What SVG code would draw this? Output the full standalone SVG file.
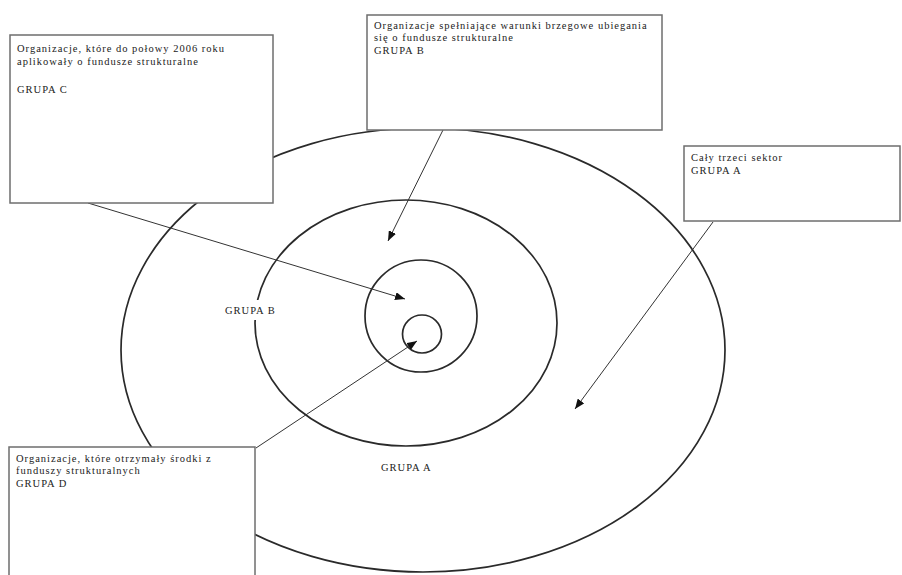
<svg xmlns="http://www.w3.org/2000/svg" width="902" height="575" viewBox="0 0 902 575">
<style>
.ring{fill:none;stroke:#2a2a2a;stroke-width:1.7}
.box{fill:#fff;stroke:#6e6e6e;stroke-width:1.5}
.t{font-family:"Liberation Serif","Times New Roman",serif;font-size:10.5px;letter-spacing:1px;fill:#222}
.lbl{fill:#fff}
.con{stroke:#333;stroke-width:1;fill:none;marker-end:url(#ah)}
</style>
<defs>
<marker id="ah" markerWidth="10" markerHeight="8" refX="10" refY="4" orient="auto" markerUnits="userSpaceOnUse">
<path d="M0,0 L10,4 L0,8 Z" fill="#111"/>
</marker>
</defs>
<rect width="902" height="575" fill="#fff"/>
<g id="rings">
<ellipse class="ring" cx="423" cy="350" rx="302" ry="222"/>
<ellipse class="ring" cx="406" cy="323" rx="151" ry="123"/>
<ellipse class="ring" cx="421" cy="316" rx="56" ry="56" stroke-width="2.8"/>
<ellipse class="ring" cx="422" cy="334" rx="19.5" ry="19" stroke-width="2.4"/>
</g>
<g id="label-grupa-b">
<rect class="lbl" x="222" y="300" width="62" height="20"/>
<text class="t" x="225" y="314" font-size="10.5" letter-spacing="1.2">GRUPA B</text>
</g>
<g id="label-grupa-a">
<text class="t" x="381" y="471" font-size="11" letter-spacing="1.6">GRUPA A</text>
</g>
<g id="connectors">
<line class="con" x1="88" y1="203" x2="405" y2="299"/>
<line class="con" x1="443" y1="130" x2="388" y2="241"/>
<line class="con" x1="713" y1="222" x2="575" y2="409"/>
<line class="con" x1="256" y1="448" x2="417" y2="341"/>
</g>
<g id="box-c">
<rect class="box" x="10" y="35" width="263" height="168"/>
<text class="t" x="17" y="52">Organizacje, które do połowy 2006 roku</text>
<text class="t" x="17" y="64.5">aplikowały o fundusze strukturalne</text>
<text class="t" x="17" y="93">GRUPA C</text>
</g>
<g id="box-b">
<rect class="box" x="367" y="15" width="295" height="115"/>
<text class="t" x="374" y="28.5">Organizacje spełniające warunki brzegowe ubiegania</text>
<text class="t" x="374" y="41">się o fundusze strukturalne</text>
<text class="t" x="374" y="53.5">GRUPA B</text>
</g>
<g id="box-a">
<rect class="box" x="684" y="146" width="216" height="75"/>
<text class="t" x="691" y="161">Cały trzeci sektor</text>
<text class="t" x="691" y="173.5">GRUPA A</text>
</g>
<g id="box-d">
<rect class="box" x="9" y="447" width="246" height="140"/>
<text class="t" x="16" y="461.5">Organizacje, które otrzymały środki z</text>
<text class="t" x="16" y="474">funduszy strukturalnych</text>
<text class="t" x="16" y="486.5"> GRUPA D</text>
</g>
</svg>
